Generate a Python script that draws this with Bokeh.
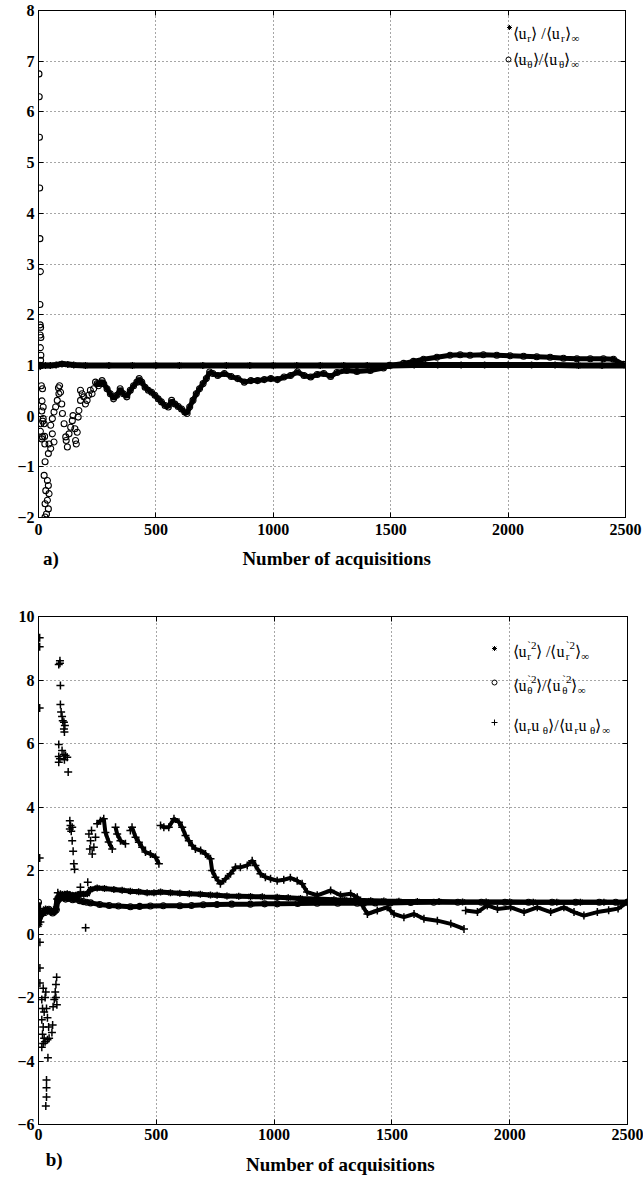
import math
from bokeh.plotting import figure
from bokeh.models import Range1d, LinearAxis, Label, FixedTicker
from bokeh.core.properties import value
from bokeh.layouts import column
from bokeh.embed import file_html
from bokeh.resources import INLINE

SERIF = "Liberation Serif"
NAN = float("nan")

# ---------------- data ----------------
x_ticks = [0, 500, 1000, 1500, 2000, 2500]
top_y_ticks = [-2, -1, 0, 1, 2, 3, 4, 5, 6, 7, 8]
bot_y_ticks = [-6, -4, -2, 0, 2, 4, 6, 8, 10]
x_label = "Number of acquisitions"
panel_tags = ["a)", "b)"]

# panel a) : <u_r>/<u_r>inf  (asterisks)
ur_x = [0, 4, 8, 15, 30, 50, 75, 100, 125, 150, 200, 300, 400, 500, 600, 700, 800, 900,
        1000, 1100, 1200, 1300, 1400, 1500, 1600, 1700, 1800, 1900, 2000, 2100, 2200,
        2300, 2400, 2500]
ur_y = [0.97, 1.0, 0.99, 1.0, 1.0, 1.0, 1.01, 1.03, 1.02, 1.01, 1.0, 1.0, 1.0, 1.0, 1.0,
        1.0, 1.0, 1.0, 1.0, 1.0, 1.0, 1.0, 1.0, 1.0, 1.01, 1.01, 1.01, 1.01, 1.01, 1.01,
        1.01, 1.0, 1.0, 1.0]

# panel a) : <u_theta>/<u_theta>inf  (circles) - early scattered part
ut_early_x = [2, 3, 4, 5, 6, 8, 6, 7, 9, 7, 10, 8, 10, 9, 6, 12, 15, 14, 18, 10, 8, 14,
              26, 27, 17, 20, 20, 24, 17, 28, 45, 52, 42, 66, 59, 52, 59, 66, 73, 80, 87,
              85, 90, 94, 99, 102, 109, 116, 123, 118, 130, 137, 144, 147, 155, 158, 161,
              165, 169, 172, 179, 186, 179, 193, 200, 207, 214, 221, 228, 235,
              24, 38, 42, 31, 45, 38, 28, 42, 34, 28]
ut_early_y = [6.75, 6.3, 5.5, 4.5, 3.5, 2.85, 2.2, 1.8, 1.75, 1.6, 1.55, 1.35, 1.2, 1.1,
              1.0, 0.6, 0.3, 0.1, -0.1, -0.15, -0.3, -0.45, -0.4, -0.55, 0.54, 0.18,
              -0.05, -0.15, -0.41, -0.9, -0.55, -0.64, -0.74, -0.51, -0.35, -0.18, -0.05,
              0.08, 0.18, 0.31, 0.44, 0.56, 0.6, 0.47, 0.24, 0.05, -0.15, -0.41, -0.61,
              -0.48, -0.35, -0.22, -0.09, 0.01, -0.25, -0.48, -0.55, -0.32, -0.02, 0.11,
              0.31, 0.44, 0.51, 0.38, 0.24, 0.31, 0.41, 0.51, 0.44, 0.54,
              -1.17, -1.27, -1.37, -1.47, -1.53, -1.66, -1.73, -1.83, -1.93, -1.99]
# dense band part
ut_band_x = [243, 250, 256, 271, 278, 292, 306, 320, 334, 348, 362, 376, 391, 405, 419,
             429, 440, 454, 468, 482, 496, 510, 524, 539, 553, 567, 581, 595, 609, 623,
             633, 644, 658, 672, 686, 701, 715, 729, 743, 764, 792, 821, 849, 877, 905,
             933, 962, 990, 1018, 1046, 1074, 1103, 1131, 1159, 1187, 1215, 1244, 1271,
             1313, 1356, 1413, 1469, 1495, 1555, 1597, 1640, 1697, 1753, 1796, 1838,
             1895, 1952, 2009, 2066, 2122, 2179, 2236, 2293, 2350, 2406, 2449, 2491]
ut_band_y = [0.67, 0.64, 0.6, 0.7, 0.64, 0.54, 0.44, 0.34, 0.41, 0.54, 0.44, 0.38, 0.51,
             0.6, 0.67, 0.74, 0.67, 0.57, 0.51, 0.47, 0.41, 0.34, 0.28, 0.21, 0.18, 0.31,
             0.24, 0.19, 0.14, 0.08, 0.05, 0.18, 0.31, 0.44, 0.54, 0.64, 0.74, 0.87, 0.84,
             0.8, 0.84, 0.78, 0.74, 0.67, 0.7, 0.7, 0.72, 0.74, 0.72, 0.77, 0.8, 0.87,
             0.8, 0.77, 0.82, 0.84, 0.78, 0.86, 0.9, 0.88, 0.9, 0.95, 1.0, 1.04, 1.08,
             1.12, 1.16, 1.2, 1.21, 1.2, 1.21, 1.2, 1.19, 1.18, 1.17, 1.16, 1.14, 1.13,
             1.13, 1.13, 1.12, 1.02]

# panel b) : <u_r'^2>/<u_r'^2>inf  (asterisks)
ur2_x = [2, 6, 10, 16, 22, 30, 37, 44, 51, 58, 65, 72, 79, 86, 93, 100, 110, 122, 135,
         150, 165, 178, 192, 207, 221, 249, 280, 320, 355, 390, 425, 461, 490, 518, 560,
         600, 640, 687, 730, 758, 800, 850, 900, 950, 1013, 1060, 1112, 1180, 1254, 1300,
         1353, 1410, 1466, 1530, 1608, 1700, 1800, 1900, 2000, 2100, 2200, 2300, 2400,
         2500]
ur2_y = [0.3, 0.55, 0.62, 0.69, 0.66, 0.79, 0.75, 0.74, 0.7, 0.69, 0.72, 0.79, 1.1, 1.2,
         1.27, 1.22, 1.25, 1.27, 1.24, 1.21, 1.24, 1.27, 1.25, 1.27, 1.4, 1.45, 1.43,
         1.4, 1.38, 1.35, 1.33, 1.3, 1.3, 1.32, 1.3, 1.28, 1.27, 1.25, 1.23, 1.22, 1.2,
         1.19, 1.18, 1.17, 1.16, 1.14, 1.12, 1.1, 1.08, 1.07, 1.06, 1.05, 1.04, 1.03,
         1.02, 1.02, 1.01, 1.01, 1.01, 1.0, 1.0, 1.0, 1.0, 1.0]

# panel b) : <u_theta'^2>/<u_theta'^2>inf  (circles)
ut2_x = [0, 3, 8, 14, 20, 28, 36, 44, 52, 60, 68, 76, 82, 90, 100, 115, 130, 145, 160,
         175, 190, 205, 221, 260, 300, 340, 390, 430, 475, 530, 600, 650, 700, 758, 820,
         900, 960, 1013, 1100, 1183, 1270, 1353, 1430, 1494, 1580, 1678, 1780, 1880, 1980,
         2080, 2180, 2280, 2380, 2450, 2500]
ut2_y = [1.0, 0.5, 0.6, 0.65, 0.72, 0.68, 0.74, 0.78, 0.72, 0.66, 0.7, 0.76, 1.05, 1.12,
         1.15, 1.1, 1.12, 1.08, 1.1, 1.05, 1.02, 1.0, 0.98, 0.93, 0.9, 0.88, 0.86, 0.87,
         0.88, 0.89, 0.89, 0.9, 0.92, 0.93, 0.94, 0.94, 0.95, 0.95, 0.96, 0.97, 0.97, 0.97,
         0.98, 0.98, 0.99, 1.0, 1.0, 1.0, 1.0, 1.0, 1.0, 1.0, 1.0, 1.0, 1.0]

# panel b) : <u_r u_theta>/<u_r u_theta>inf  (plus signs) - early scattered part
urt_early_x = [5, 5, 5, 5, 6, 8, 6, 6, 6, 20, 28, 14, 17, 24, 14, 20, 17, 24, 20, 14, 28,
               38, 45, 43, 38, 34, 31, 40, 34, 34, 34, 31, 57, 60, 62, 67, 71, 74, 77, 74,
               78, 82, 80, 91, 91, 86, 93, 93, 96, 100, 103, 108, 112, 108, 110, 86, 86,
               91, 86, 100, 108, 115, 122, 110, 126, 133, 136, 133, 143, 139, 143, 147,
               150, 153, 178, 209, 200, 214, 218, 221, 225, 228, 235, 242]
urt_early_y = [9.33, 9.05, 7.12, 2.39, 0.72, 0.38, -0.26, -1.07, -1.54, -1.71, -2.0,
               -2.06, -2.35, -2.46, -2.7, -2.93, -3.16, -3.28, -3.45, -3.57, -3.39, -3.33,
               -3.28, -2.93, -2.64, -2.35, -1.83, -3.9, -4.6, -4.84, -5.13, -5.42, -3.1,
               -2.87, -2.29, -2.06, -1.83, -1.59, -1.36, -2.0, -2.23, 1.3, 1.1, 8.61,
               8.53, 8.49, 7.83, 7.23, 6.99, 6.85, 6.72, 6.67, 6.57, 6.46, 6.36, 5.97,
               5.59, 5.52, 5.41, 5.78, 5.65, 5.62, 5.57, 5.49, 5.1, 3.57, 3.42, 3.31,
               3.36, 3.24, 2.94, 2.61, 2.21, 2.04, 1.47, 1.63, 0.2, 3.15, 2.68, 2.94,
               3.26, 2.52, 2.73, 3.05]
# running part, NaN separates the jumps
urt_band_x = [249, 263, 277, 284, 298, 313, NAN,
              327, 334, 348, 369, NAN,
              390, 397, 412, 426, 440, 454, 475, 497, 511, NAN,
              518, 532, 553, 575, 596, 610, 624, 638, 652, 666, 688, 709, 730, 737, 751,
              772, 794, 815, 836, 857, 886, 907, 921, 942, 963, 985, 1013, 1041, 1069,
              1098, 1119, 1140, 1183, 1240, 1282, 1325, 1353, 1375, 1396, 1438, 1480,
              1509, 1551, 1594, 1636, 1693, 1750, 1806, NAN,
              1813, 1863, 1905, 1948, 2004, 2061, 2117, 2174, 2230, 2273, 2315, 2372,
              2420, 2460, 2500]
urt_band_y = [3.47, 3.57, 3.63, 3.2, 2.9, 2.68, NAN,
              3.36, 3.15, 2.94, 2.84, NAN,
              3.26, 3.36, 3.05, 2.89, 2.73, 2.58, 2.52, 2.42, 2.21, NAN,
              3.42, 3.36, 3.36, 3.63, 3.52, 3.36, 3.1, 2.94, 2.79, 2.68, 2.63, 2.52, 2.37,
              2.0, 1.79, 1.58, 1.74, 1.9, 2.1, 2.1, 2.16, 2.31, 2.16, 1.9, 1.79, 1.74,
              1.68, 1.71, 1.77, 1.68, 1.58, 1.32, 1.22, 1.37, 1.22, 1.27, 1.16, 0.9,
              0.63, 0.74, 0.84, 0.63, 0.53, 0.63, 0.48, 0.42, 0.32, 0.16, NAN,
              0.74, 0.69, 0.9, 0.79, 0.84, 0.69, 0.84, 0.69, 0.84, 0.69, 0.58, 0.69,
              0.75, 0.8, 1.0]

# ---------------- helpers ----------------
WID = {'u': 0.5, 'r': 0.36, 'θ': 0.5, '/': 0.3, ' ': 0.22, '∞': 0.75, '2': 0.5,
       '`': 0.3, '⟨': 0.42, '⟩': 0.42}
W = 643


def tw(s, size):
    return sum(WID.get(c, 0.5) for c in s) * size


def make_panel(y0, y1, yticks, fw, fh, ml, mr, mt, mb, xstand):
    p = figure(frame_width=fw, frame_height=fh, min_border_left=ml, min_border_right=mr,
               min_border_top=mt, min_border_bottom=mb,
               x_range=Range1d(0, 2500), y_range=Range1d(y0, y1),
               output_backend="svg", toolbar_location=None,
               background_fill_color="white", border_fill_color="white")
    p.outline_line_color = "black"
    p.outline_line_width = 1
    p.xaxis.ticker = FixedTicker(ticks=x_ticks)
    p.yaxis.ticker = FixedTicker(ticks=yticks)
    for ax in (p.xaxis[0], p.yaxis[0]):
        ax.axis_line_color = "black"
        ax.major_tick_in = 5
        ax.major_tick_out = 0
        ax.major_tick_line_color = "black"
        ax.minor_tick_line_color = None
        ax.major_label_text_font = SERIF
        ax.major_label_text_font_style = "bold"
        ax.major_label_text_font_size = "16px"
        ax.major_label_text_color = "black"
    p.xaxis.major_label_standoff = xstand
    p.yaxis.major_label_standoff = 4
    p.grid.grid_line_color = "black"
    p.grid.grid_line_dash = "1 3"
    p.grid.grid_line_alpha = 0.7
    p.grid.grid_line_width = 1
    right = LinearAxis(ticker=FixedTicker(ticks=yticks),
                       major_label_overrides={t: "" for t in yticks},
                       major_tick_in=5, major_tick_out=0, major_label_standoff=0,
                       minor_tick_line_color=None, axis_line_color="black")
    top = LinearAxis(ticker=FixedTicker(ticks=x_ticks),
                     major_label_overrides={t: "" for t in x_ticks},
                     major_tick_in=5, major_tick_out=0, major_label_standoff=0,
                     minor_tick_line_color=None, axis_line_color="black")
    p.add_layout(right, "right")
    p.add_layout(top, "above")
    return p


def make_caption(h, tag, tag_x, tag_y, label_x, label_y):
    c = figure(width=W, height=h, x_range=Range1d(0, W), y_range=Range1d(0, h),
               min_border=0, toolbar_location=None, output_backend="svg",
               x_axis_type=None, y_axis_type=None, outline_line_color=None,
               background_fill_color="white", border_fill_color="white")
    c.text(x=[tag_x], y=[tag_y], text=[tag], text_font=value(SERIF),
           text_font_style="bold", text_font_size="19px", text_color="black",
           text_baseline="middle", text_align="left")
    c.text(x=[label_x], y=[label_y], text=[x_label], text_font=value(SERIF),
           text_font_style="bold", text_font_size="19px", text_color="black",
           text_baseline="middle", text_align="center")
    return c


def add_text(p, xd, yd, parts, size=16, small=11):
    cx = 0.0
    for text, kind in parts:
        if kind == "n":
            fs, dy, adv = size, 0, True
        elif kind == "sub":
            fs, dy, adv = small, -4, True
        elif kind == "subs":
            fs, dy, adv = small, -4, False
        else:  # sup
            fs, dy, adv = small, 7, True
        p.add_layout(Label(x=xd, y=yd, x_offset=cx, y_offset=dy, text=text,
                           text_font=SERIF, text_font_size=f"{fs}px",
                           text_color="black", text_baseline="alphabetic",
                           text_align="left"))
        if adv:
            cx += tw(text, fs)


# ---------------- panel a ----------------
A_L, A_FW, A_T, A_FH = 35, 587, 10, 507
A_MB = 30
pa = make_panel(-2, 8, top_y_ticks, A_FW, A_FH, A_L, 21, A_T, A_MB, 6)


def a_xy(px, py):
    return (px - A_L) / A_FW * 2500, 8 - (py - A_T) / A_FH * 10


pa.line(ur_x, ur_y, line_color="black", line_width=6)
pa.scatter(ur_x, ur_y, marker="asterisk", size=7, line_color="black", line_width=1.5)
pa.line(ut_band_x, ut_band_y, line_color="black", line_width=5)
pa.scatter(ut_early_x + ut_band_x, ut_early_y + ut_band_y, marker="circle", size=6,
           fill_color=None, line_color="black", line_width=1.1)

# legend a
lx, ly = a_xy(506, 27)
pa.scatter([lx], [ly], marker="asterisk", size=5, line_color="black", line_width=1)
lx, ly = a_xy(505, 59)
pa.scatter([lx], [ly], marker="circle", size=5, fill_color=None, line_color="black")
tx, ty = a_xy(509, 33)
add_text(pa, tx, ty, [("⟨u", "n"), ("r", "sub"), ("⟩ /⟨u", "n"), ("r", "sub"),
                      ("⟩", "n"), ("∞", "sub")])
tx, ty = a_xy(509, 59)
add_text(pa, tx, ty, [("⟨u", "n"), ("θ", "sub"), ("⟩/⟨u", "n"), ("θ", "sub"),
                      ("⟩", "n"), ("∞", "sub")])

a_height = A_T + A_FH + A_MB
cap_a_h = 590 - a_height
cap_a = make_caption(cap_a_h, panel_tags[0], 5, cap_a_h - (558 - a_height),
                     A_L + A_FW / 2, cap_a_h - (558 - a_height))

# ---------------- panel b ----------------
B_L, B_FW, B_T, B_FH = 38, 589, 26, 508
B_MB = 24
pb = make_panel(-6, 10, bot_y_ticks, B_FW, B_FH, B_L, 16, B_T, B_MB, 4)
B_OFF = 590


def b_xy(px, py):
    return (px - B_L) / B_FW * 2500, 10 - (py - B_OFF - B_T) / B_FH * 16


pb.line(ur2_x, ur2_y, line_color="black", line_width=5)
pb.scatter(ur2_x, ur2_y, marker="asterisk", size=7, line_color="black", line_width=1.5)
pb.line(ut2_x, ut2_y, line_color="black", line_width=5)
pb.scatter(ut2_x, ut2_y, marker="circle", size=6, fill_color=None, line_color="black",
           line_width=1.1)
pb.line(urt_band_x, urt_band_y, line_color="black", line_width=4)
pb.scatter(urt_early_x + urt_band_x, urt_early_y + urt_band_y, marker="cross", size=8,
           line_color="black", line_width=1.5)

lx, ly = b_xy(494, 648)
pb.scatter([lx], [ly], marker="asterisk", size=5, line_color="black", line_width=1)
lx, ly = b_xy(494, 682)
pb.scatter([lx], [ly], marker="circle", size=5, fill_color=None, line_color="black")
lx, ly = b_xy(494, 722)
pb.scatter([lx], [ly], marker="cross", size=6, line_color="black", line_width=1)
tx, ty = b_xy(512, 651)
add_text(pb, tx, ty, [("⟨u", "n"), ("r", "subs"), ("`2", "sup"), ("⟩ /⟨u", "n"),
                      ("r", "subs"), ("`2", "sup"), ("⟩", "n"), ("∞", "sub")])
tx, ty = b_xy(512, 685)
add_text(pb, tx, ty, [("⟨u", "n"), ("θ", "subs"), ("`2", "sup"), ("⟩/⟨u", "n"),
                      ("θ", "subs"), ("`2", "sup"), ("⟩", "n"), ("∞", "sub")])
tx, ty = b_xy(512, 725)
add_text(pb, tx, ty, [("⟨u", "n"), ("r", "sub"), (" u", "n"), ("θ", "sub"),
                      ("⟩/⟨u", "n"), ("r", "sub"), (" u", "n"), ("θ", "sub"),
                      ("⟩", "n"), ("∞", "sub")])

b_top = B_OFF + B_T + B_FH + B_MB
cap_b_h = 1177 - b_top
cap_b = make_caption(cap_b_h, panel_tags[1], 8, cap_b_h - 11,
                     B_L + B_FW / 2, cap_b_h - 16)

layout = column(pa, cap_a, pb, cap_b, spacing=0)
open("out.html", "w").write(file_html(layout, INLINE))
